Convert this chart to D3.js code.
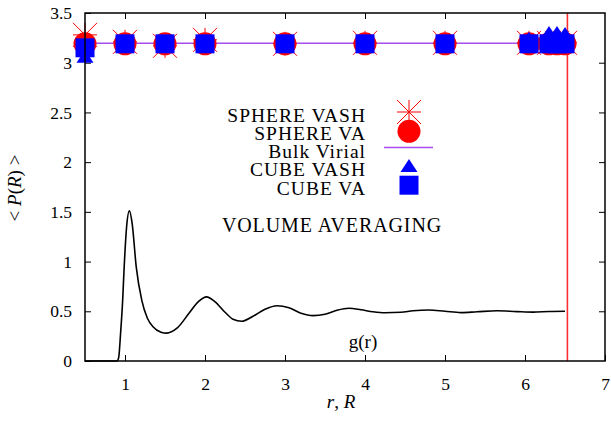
<!DOCTYPE html>
<html>
<head>
<meta charset="utf-8">
<script src="https://cdn.jsdelivr.net/npm/d3@7"></script>
<style>
  body { margin: 0; background: #fff; }
  svg { display: block; }
</style>
</head>
<body>
<svg id="chart" width="611" height="421"></svg>
<script>
// box radii R and averaged pressure for each method
const radii = [0.5, 1, 1.5, 2, 3, 4, 5, 6.05, 6.3, 6.4, 6.5];
const sphereVASH = [3.28, 3.21, 3.17, 3.23, 3.19, 3.2, 3.2, 3.2, 3.2, 3.2, 3.2];
const sphereVA = [3.19, 3.19, 3.19, 3.19, 3.19, 3.19, 3.19, 3.19, 3.19, 3.19, 3.19];
const cubeVASH = [3.06, 3.19, 3.19, 3.19, 3.19, 3.19, 3.19, 3.24, 3.3, 3.3, 3.29];
const cubeVA = [3.15, 3.19, 3.19, 3.19, 3.19, 3.19, 3.19, 3.19, 3.19, 3.19, 3.19];

const bulkR = [0.5, 6.5];
const bulkP = [3.196, 3.196];
const halfBox = 6.53;

// radial distribution function g(r)
const gr_r = [0.5, 0.85, 0.9, 0.92, 0.945, 0.97, 0.99, 1.02, 1.055, 1.09, 1.14, 1.21, 1.28, 1.35, 1.45, 1.52,
  1.65, 1.8, 1.92, 2.02, 2.12, 2.25, 2.35, 2.46, 2.6, 2.75, 2.9, 3.05, 3.2, 3.35, 3.5, 3.65, 3.8,
  3.95, 4.1, 4.25, 4.45, 4.6, 4.8, 5.0, 5.2, 5.4, 5.65, 5.9, 6.1, 6.3, 6.5];
const gr_g = [0, 0, 0, 0.03, 0.28, 0.6, 0.95, 1.35, 1.51, 1.38, 0.95, 0.61, 0.43, 0.345, 0.29, 0.28,
  0.33, 0.48, 0.6, 0.645, 0.6, 0.49, 0.42, 0.40, 0.45, 0.52, 0.555, 0.535, 0.48, 0.456, 0.47, 0.51, 0.53,
  0.515, 0.495, 0.485, 0.49, 0.505, 0.513, 0.5, 0.487, 0.495, 0.505, 0.497, 0.492, 0.498, 0.5];

const xTicks = [1, 2, 3, 4, 5, 6, 7];
const yTicks = [0, 0.5, 1, 1.5, 2, 2.5, 3, 3.5];

const legendLabels = ['SPHERE VASH', 'SPHERE VA', 'Bulk Virial', 'CUBE VASH', 'CUBE VA'];

const FONT = '"Liberation Serif", "Times New Roman", serif';
const margin = { top: 13, right: 6, bottom: 60, left: 85 };
const width = 611;
const height = 421;

const svg = d3.select('#chart').attr('font-family', FONT);

const x = d3.scaleLinear().domain([0.5, 7]).range([margin.left, width - margin.right]);
const y = d3.scaleLinear().domain([0, 3.5]).range([height - margin.bottom, margin.top]);

const RED = '#ff0000';
const BLUE = '#0000ff';
const PURPLE = '#a64cf0';

function asteriskPath(s) {
  return `M${-s},0H${s}M0,${-s}V${s}M${-s},${-s}L${s},${s}M${-s},${s}L${s},${-s}`;
}
const trianglePath = 'M0,-7L8.5,6L-8.5,6Z';
const squarePath = 'M-9.5,-9.5H9.5V9.5H-9.5Z';

// axes (ticks point inward, mirrored on top / right)
function styleAxis(g) {
  g.attr('font-family', FONT).attr('font-size', 17.5);
  g.select('.domain').remove();
  g.selectAll('line').attr('stroke', '#000').attr('stroke-width', 1);
  g.selectAll('text').attr('fill', '#000');
}

svg.append('g')
  .attr('transform', `translate(0,${y(0)})`)
  .call(d3.axisBottom(x).tickValues(xTicks).tickFormat(d3.format('d')).tickSizeInner(-6).tickSizeOuter(0).tickPadding(17))
  .call(styleAxis);

svg.append('g')
  .attr('transform', `translate(${x(0.5)},0)`)
  .call(d3.axisLeft(y).tickValues(yTicks).tickFormat(d => String(d)).tickSizeInner(-6).tickSizeOuter(0).tickPadding(13))
  .call(styleAxis);

svg.append('g')
  .attr('transform', `translate(0,${y(3.5)})`)
  .call(d3.axisTop(x).tickValues(xTicks.slice(0, -1)).tickFormat('').tickSizeInner(-6).tickSizeOuter(0))
  .call(styleAxis);

svg.append('g')
  .attr('transform', `translate(${x(7)},0)`)
  .call(d3.axisRight(y).tickValues(yTicks.slice(1, -1)).tickFormat('').tickSizeInner(-6).tickSizeOuter(0))
  .call(styleAxis);

// g(r)
const line = d3.line().x(d => x(d[0])).y(d => y(d[1])).curve(d3.curveMonotoneX);
svg.append('path')
  .attr('d', line(gr_r.map((r, i) => [r, gr_g[i]])))
  .attr('fill', 'none')
  .attr('stroke', '#000')
  .attr('stroke-width', 1.6);

// half box length marker
svg.append('line')
  .attr('x1', x(halfBox)).attr('x2', x(halfBox))
  .attr('y1', y(0)).attr('y2', y(3.5))
  .attr('stroke', '#ff3030').attr('stroke-width', 1.6);

// bulk virial
svg.append('path')
  .attr('d', d3.line().x(d => x(d[0])).y(d => y(d[1]))(bulkR.map((r, i) => [r, bulkP[i]])))
  .attr('stroke', PURPLE).attr('stroke-width', 1.5).attr('fill', 'none');

const pts = radii.map((r, i) => ({ r, sVASH: sphereVASH[i], sVA: sphereVA[i], cVASH: cubeVASH[i], cVA: cubeVA[i] }));

svg.append('g').selectAll('path').data(pts).join('path')
  .attr('d', asteriskPath(12))
  .attr('transform', d => `translate(${x(d.r)},${y(d.sVASH)})`)
  .attr('stroke', RED).attr('stroke-width', 1).attr('fill', 'none');

svg.append('g').selectAll('circle').data(pts).join('circle')
  .attr('cx', d => x(d.r)).attr('cy', d => y(d.sVA)).attr('r', 11.5)
  .attr('fill', RED);

svg.append('g').selectAll('path').data(pts).join('path')
  .attr('d', trianglePath)
  .attr('transform', d => `translate(${x(d.r)},${y(d.cVASH)})`)
  .attr('fill', BLUE);

svg.append('g').selectAll('path').data(pts).join('path')
  .attr('d', squarePath)
  .attr('transform', d => `translate(${x(d.r)},${y(d.cVA)})`)
  .attr('fill', BLUE);

// border
svg.append('rect')
  .attr('x', x(0.5)).attr('y', y(3.5))
  .attr('width', x(7) - x(0.5)).attr('height', y(0) - y(3.5))
  .attr('fill', 'none').attr('stroke', '#000').attr('stroke-width', 1.5);

// legend
const legX = 366;
const symX = 409;
const rowY = i => 112 + i * 18.3;
const legend = svg.append('g');
legend.selectAll('text').data(legendLabels).join('text')
  .attr('x', legX).attr('y', (d, i) => rowY(i) + 9.5)
  .attr('text-anchor', 'end')
  .attr('font-size', 19.5)
  .attr('letter-spacing', 1)
  .text(d => d);

legend.append('path').attr('d', asteriskPath(12)).attr('transform', `translate(${symX},${rowY(0)})`)
  .attr('stroke', RED).attr('fill', 'none');
legend.append('circle').attr('cx', symX).attr('cy', rowY(1) + 1).attr('r', 11.5).attr('fill', RED);
legend.append('line').attr('x1', symX - 25).attr('x2', symX + 24).attr('y1', rowY(2) - 1).attr('y2', rowY(2) - 1)
  .attr('stroke', PURPLE).attr('stroke-width', 1.5);
legend.append('path').attr('d', trianglePath).attr('transform', `translate(${symX},${rowY(3) - 1})`).attr('fill', BLUE);
legend.append('path').attr('d', squarePath).attr('transform', `translate(${symX},${rowY(4)})`).attr('fill', BLUE);

svg.append('text')
  .attr('x', 332).attr('y', 232)
  .attr('text-anchor', 'middle').attr('font-size', 20)
  .attr('letter-spacing', 0.9)
  .text('VOLUME AVERAGING');

svg.append('text')
  .attr('x', 363).attr('y', 348)
  .attr('text-anchor', 'middle').attr('font-size', 19)
  .text('g(r)');

// axis titles
const xt = svg.append('text').attr('x', 341).attr('y', 408).attr('text-anchor', 'middle').attr('font-size', 19);
xt.append('tspan').attr('font-style', 'italic').text('r');
xt.append('tspan').text(', ');
xt.append('tspan').attr('font-style', 'italic').text('R');

const yt = svg.append('text')
  .attr('transform', 'translate(21,188) rotate(-90)')
  .attr('text-anchor', 'middle').attr('font-size', 19);
yt.append('tspan').text('< ');
yt.append('tspan').attr('font-style', 'italic').text('P');
yt.append('tspan').text('(');
yt.append('tspan').attr('font-style', 'italic').text('R');
yt.append('tspan').text(') >');
</script>
</body>
</html>
